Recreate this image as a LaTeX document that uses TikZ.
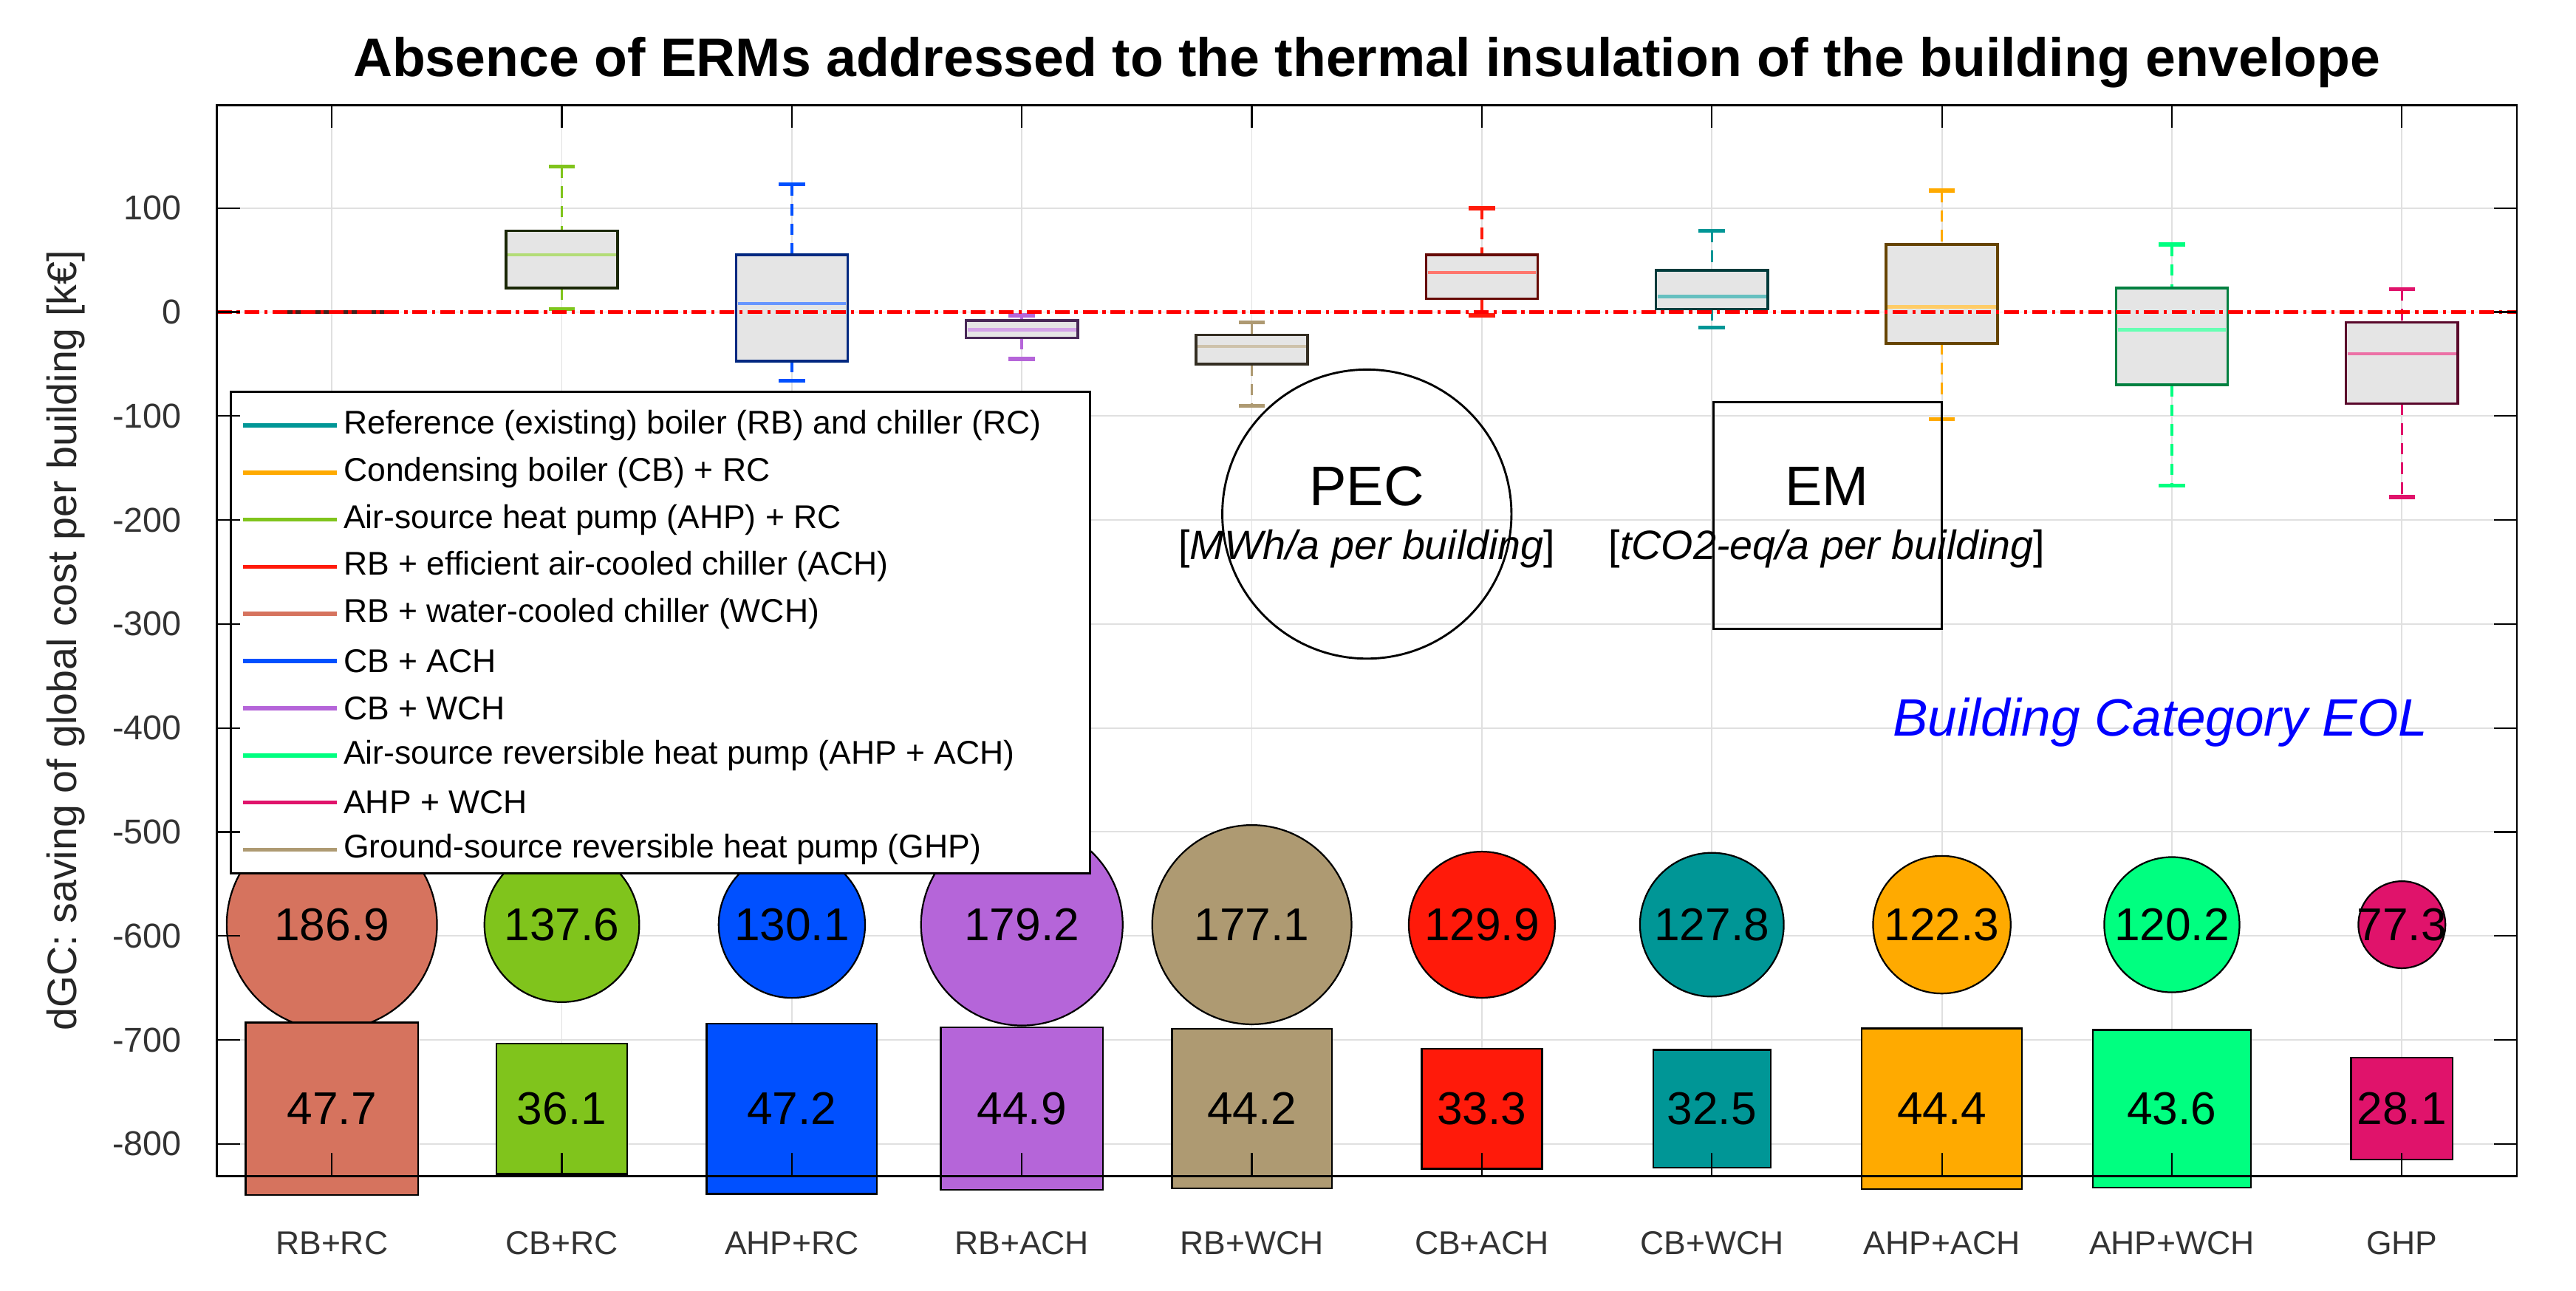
\documentclass[tikz,border=0pt]{standalone}
\usepackage{fontspec}
\setmainfont{Liberation Sans}
\begin{document}
\begin{tikzpicture}[x=1pt,y=-1pt,
  grid/.style={draw=black!12,line width=0.8pt},
  tick/.style={font=\fontsize{21}{21}\selectfont,text=black!80},
  leg/.style={font=\fontsize{20}{20}\selectfont,anchor=west,inner sep=0pt},
  val/.style={font=\fontsize{28}{28}\selectfont,inner sep=0pt},
  mk/.style={draw=black,line width=1pt}]
\definecolor{cTeal}{HTML}{009696}
\definecolor{cOrange}{HTML}{FFAA00}
\definecolor{cYG}{HTML}{80C41C}
\definecolor{cRed}{HTML}{FF1A0A}
\definecolor{cSal}{HTML}{D6735E}
\definecolor{cBlue}{HTML}{0050FF}
\definecolor{cPur}{HTML}{B565D9}
\definecolor{cSpr}{HTML}{00FF80}
\definecolor{cCrim}{HTML}{E0136B}
\definecolor{cTan}{HTML}{AE9A72}
\useasboundingbox (0,0) rectangle (1568,786);
% grid
\foreach \xx in {202,342,...,1462} \draw[grid] (\xx,64) -- (\xx,716);
\foreach \v in {1,...,-8} \draw[grid] (132,{190-63.3*\v}) -- (1532,{190-63.3*\v});
% boxplots
\newcommand\bxp[8]{%
  \draw[#7,line width=1.6pt,dash pattern=on 7pt off 5pt] (#1,#2) -- (#1,#3) (#1,#5) -- (#1,#6);
  \draw[#7,line width=2.5pt] (#1-8,#2) -- (#1+8,#2) (#1-8,#6) -- (#1+8,#6);
  \draw[fill=black!10,draw=#8,line width=1.6pt] (#1-34,#3) rectangle (#1+34,#5);
  \draw[#7!60,line width=2pt] (#1-33,#4) -- (#1+33,#4);}
\draw[black!70!cSal,line width=2pt] (168,190) -- (236,190);
\bxp{342}{101.4}{140.6}{155.2}{175.4}{188.1}{cYG}{black!80!cYG}
\bxp{482}{112.1}{155.2}{184.9}{219.8}{231.8}{cBlue}{black!50!cBlue}
\bxp{622}{191.9}{195.1}{200.8}{205.8}{218.5}{cPur}{black!60!cPur}
\bxp{762}{196.3}{203.9}{210.9}{221.7}{247}{cTan}{black!70!cTan}
\bxp{902}{126.7}{155.2}{166}{181.8}{191.9}{cRed}{black!60!cRed}
\bxp{1042}{140.6}{164.7}{180.5}{188.1}{199.5}{cTeal}{black!60!cTeal}
\bxp{1182}{116}{148.9}{186.8}{209}{255.2}{cOrange}{black!60!cOrange}
\bxp{1322}{148.9}{175.4}{200.8}{234.3}{295.7}{cSpr}{black!50!cSpr}
\bxp{1462}{176.1}{196.3}{215.3}{245.7}{302.7}{cCrim}{black!60!cCrim}
\draw[red,line width=2.2pt,dash pattern=on 9pt off 3pt on 2pt off 3pt] (132,190) -- (1532,190);
% circles and squares
\newcommand\cs[5]{%
  \node[mk,circle,fill=#4,minimum size={0.685pt*#2},inner sep=0pt] (c#5) at (#1,563) {};
  \node[val] (cv#5) at (#1,563) {#2};
  \node[mk,rectangle,fill=#4,minimum size={2.2pt*#3},inner sep=0pt] (s#5) at (#1,675) {};
  \node[val] (sv#5) at (#1,675) {#3};}
\cs{202}{186.9}{47.7}{cSal}{a}
\cs{342}{137.6}{36.1}{cYG}{b}
\cs{482}{130.1}{47.2}{cBlue}{c}
\cs{622}{179.2}{44.9}{cPur}{d}
\cs{762}{177.1}{44.2}{cTan}{e}
\cs{902}{129.9}{33.3}{cRed}{f}
\cs{1042}{127.8}{32.5}{cTeal}{g}
\cs{1182}{122.3}{44.4}{cOrange}{h}
\cs{1322}{120.2}{43.6}{cSpr}{i}
\cs{1462}{77.3}{28.1}{cCrim}{j}
% legend
\node[draw=black,line width=1.2pt,fill=white,minimum width=523pt,minimum height=293pt,inner sep=0pt,anchor=north west] (legend) at (140,238) {};
\foreach [count=\i] \c/\t in {cTeal/Reference (existing) boiler (RB) and chiller (RC),
  cOrange/Condensing boiler (CB) + RC,
  cYG/Air-source heat pump (AHP) + RC,
  cRed/RB + efficient air-cooled chiller (ACH),
  cSal/RB + water-cooled chiller (WCH),
  cBlue/CB + ACH,
  cPur/CB + WCH,
  cSpr/Air-source reversible heat pump (AHP + ACH),
  cCrim/AHP + WCH,
  cTan/Ground-source reversible heat pump (GHP)} {
  \draw[\c,line width=2.5pt] (148,{259+28.7*(\i-1)}) -- (205,{259+28.7*(\i-1)});
  \node[leg] (l\i) at (209,{259+28.7*(\i-1)}) {\t};
}
% PEC / EM
\node[draw=black,line width=1.3pt,circle,minimum size=176pt,inner sep=0pt] (pec) at (832,313) {};
\node[font=\fontsize{34}{34}\selectfont] (pect) at (832,296) {PEC};
\node[font=\fontsize{25}{25}\selectfont] (pecu) at (832,334) {[\textit{MWh/a per building}]};
\node[draw=black,line width=1.3pt,minimum width=139pt,minimum height=138pt,inner sep=0pt] (em) at (1112.5,314) {};
\node[font=\fontsize{34}{34}\selectfont] (emt) at (1112,296) {EM};
\node[font=\fontsize{25}{25}\selectfont] (emu) at (1112,334) {[\textit{tCO2-eq/a per building}]};
\node[font=\fontsize{32}{32}\selectfont\itshape,text=blue] (cat) at (1315,440) {Building Category EOL};
% axes frame and ticks
\draw[black,line width=1.2pt] (132,64) rectangle (1532,716);
\foreach \v/\lab in {1/100,0/0,-1/-100,-2/-200,-3/-300,-4/-400,-5/-500,-6/-600,-7/-700,-8/-800} {
  \draw[line width=1pt] (132,{190-63.3*\v}) -- (146,{190-63.3*\v});
  \draw[line width=1pt] (1532,{190-63.3*\v}) -- (1518,{190-63.3*\v});
  \node[tick,anchor=east] (yt\v) at (114,{190-63.3*\v}) {\lab};
}
\foreach [count=\i] \t in {RB+RC,CB+RC,AHP+RC,RB+ACH,RB+WCH,CB+ACH,CB+WCH,AHP+ACH,AHP+WCH,GHP} {
  \draw[line width=1pt] ({202+140*(\i-1)},716) -- ({202+140*(\i-1)},702);
  \draw[line width=1pt] ({202+140*(\i-1)},64) -- ({202+140*(\i-1)},78);
  \node[tick,font=\fontsize{20}{20}\selectfont] (xt\i) at ({202+140*(\i-1)},757) {\t};
}
\node[font=\fontsize{25}{25}\selectfont,rotate=90,text=black!85] (ylab) at (40,390) {dGC: saving of global cost per building [k€]};
\node[font=\fontsize{33}{33}\selectfont\bfseries] (title) at (832,38) {Absence of ERMs addressed to the thermal insulation of the building envelope};
\end{tikzpicture}
\end{document}
